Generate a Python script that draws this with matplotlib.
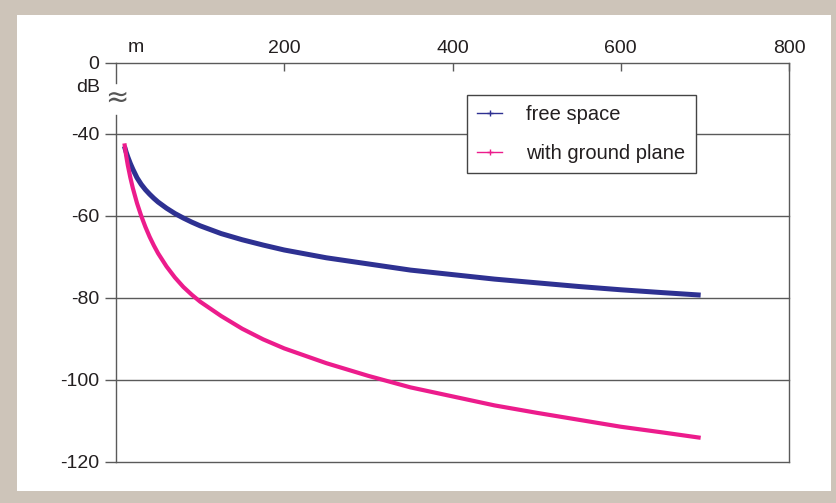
import matplotlib.pyplot as plt
from matplotlib.lines import Line2D
from matplotlib.patches import Rectangle
import numpy as np

# distance in m, attenuation in dB
distance = [10, 12, 14, 17, 20, 25, 30, 35, 40, 45, 50, 60, 70, 80, 90, 100,
            125, 150, 175, 200, 250, 300, 350, 400, 450, 500, 550, 600, 650, 695]
free_space = [-43.0, -44.4, -45.6, -47.2, -48.6, -50.7, -52.3, -53.6, -54.7,
              -55.7, -56.6, -58.1, -59.4, -60.5, -61.5, -62.4, -64.3, -65.8,
              -67.1, -68.3, -70.2, -71.7, -73.2, -74.3, -75.4, -76.3, -77.2,
              -78.0, -78.7, -79.3]
ground_plane = [-42.3, -45.2, -47.6, -50.6, -53.2, -56.9, -60.0, -62.7, -65.1,
                -67.2, -69.1, -72.3, -75.0, -77.3, -79.2, -80.9, -84.4, -87.5,
                -90.1, -92.3, -95.9, -99.0, -101.8, -104.0, -106.2, -108.0,
                -109.7, -111.4, -112.8, -114.1]

x_ticks = [200, 400, 600, 800]
y_ticks = [0, -40, -60, -80, -100, -120]
series_names = ["free space", "with ground plane"]

BLUE = "#2e3192"
PINK = "#ec1c8c"
GRID = "#5a5a5a"
TEXT = "#231f20"

plt.rcParams['font.family'] = ['Liberation Sans', 'DejaVu Sans']
plt.rcParams['font.size'] = 14

# axis is broken between -40 and 0, the upper part is squeezed
SQUEEZE = 0.4325
def fwd(y):
    y = np.asarray(y, dtype=float)
    return np.where(y <= -40, y, -40 + (y + 40) * SQUEEZE)
def inv(y):
    y = np.asarray(y, dtype=float)
    return np.where(y <= -40, y, -40 + (y + 40) / SQUEEZE)

W, H = 836, 503
fig = plt.figure(figsize=(W / 100, H / 100), dpi=100, facecolor="#cdc4b9")
fig.patches.append(Rectangle((17 / W, 1 - 491 / H), (831 - 17) / W, (491 - 15) / H,
                             transform=fig.transFigure, facecolor="white",
                             edgecolor="none", zorder=-5))

ax = fig.add_axes([116 / W, 1 - 462 / H, (789 - 116) / W, (462 - 63) / H])
ax.set_facecolor("white")
ax.set_yscale('function', functions=(fwd, inv))

ax.plot(distance, free_space, color=BLUE, lw=3.6, solid_capstyle='butt', zorder=3)
ax.plot(distance, ground_plane, color=PINK, lw=3.0, solid_capstyle='butt', zorder=3)

ax.set_xlim(0, 800)
ax.set_ylim(-120, 0)
ax.set_yticks(y_ticks)
ax.set_yticklabels([str(v) for v in y_ticks])
ax.set_xticks(x_ticks)
ax.set_xticklabels([str(v) for v in x_ticks])

ax.xaxis.tick_top()
ax.tick_params(axis='x', direction='in', length=6, width=1, color=GRID,
               pad=4, labelcolor=TEXT, labelsize=14)
ax.tick_params(axis='y', direction='out', length=8, width=1, color=GRID,
               pad=4, labelcolor=TEXT, labelsize=14)

ax.grid(axis='y', color=GRID, lw=1.0)
ax.set_axisbelow(True)
for gl in ax.get_ygridlines():
    gl.set_clip_on(False)
for side in ['left', 'top', 'bottom']:
    ax.spines[side].set_visible(False)
ax.spines['right'].set_color(GRID)
ax.spines['right'].set_linewidth(1.0)

# broken left axis
ah = 462 - 63
ax.plot([0, 0], [1, 1 - 20 / ah], transform=ax.transAxes, color=GRID, lw=1.0, clip_on=False)
ax.plot([0, 0], [1 - 52 / ah, 0], transform=ax.transAxes, color=GRID, lw=1.0, clip_on=False)
ax.text(0.0015, 1 - 35 / ah, "≈", transform=ax.transAxes, ha='center', va='center',
        fontsize=20, color="#555555", family='DejaVu Sans')

fig.text(136 / W, 1 - 48 / H, "m", ha='center', va='center', color=TEXT, fontsize=14)
fig.text(100 / W, 1 - 87 / H, "dB", ha='right', va='center', color=TEXT, fontsize=14)

handles = [Line2D([], [], color=BLUE, lw=1, marker='+', ms=4, mew=1),
           Line2D([], [], color=PINK, lw=1, marker='+', ms=4, mew=1)]
leg = ax.legend(handles, series_names, loc='upper left',
                bbox_to_anchor=(467 / W, 1 - 95 / H), bbox_transform=fig.transFigure,
                borderaxespad=0, fancybox=False, framealpha=1, edgecolor="#444444",
                handlelength=1.25, handletextpad=1.2, labelspacing=1.0,
                borderpad=0.5, fontsize=14.5)
leg.get_frame().set_linewidth(1.0)
for t in leg.get_texts():
    t.set_color(TEXT)

fig.savefig("out.png", dpi=100, facecolor=fig.get_facecolor())
